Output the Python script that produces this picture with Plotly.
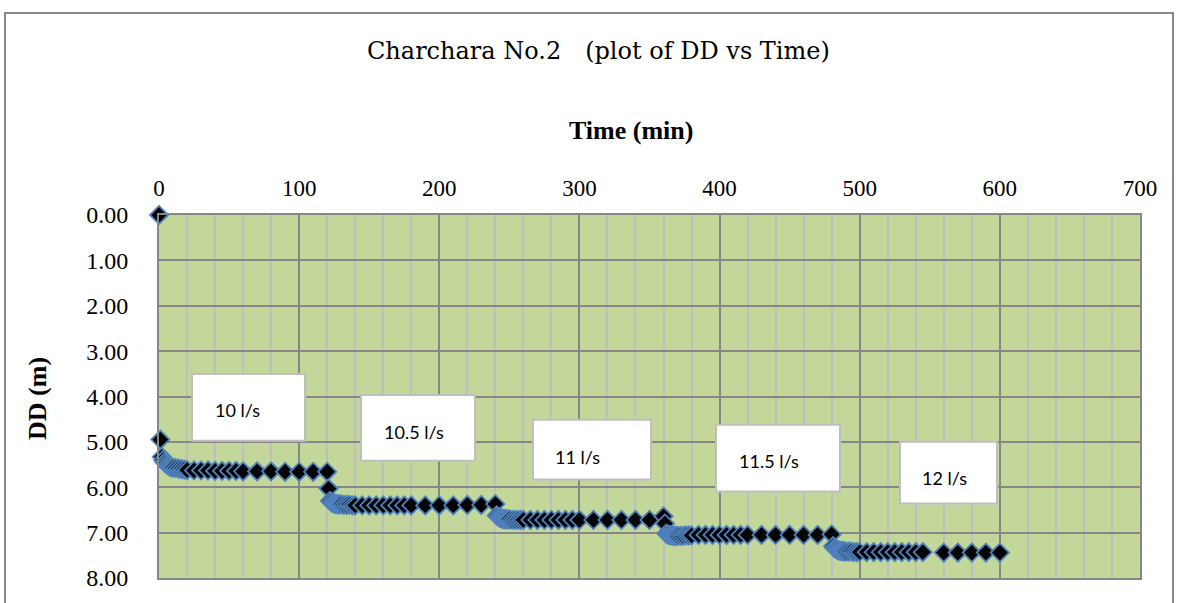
import plotly.graph_objects as go

# ---------------- data ----------------
step1_time = [0, 1, 2, 3, 4, 5, 6, 7, 8, 9, 10, 12, 14, 16, 18, 20, 25, 30, 35, 40, 45, 50, 55, 60,
              70, 80, 90, 100, 110, 120]
step1_dd = [0.00, 4.95, 5.33, 5.40, 5.45, 5.48, 5.51, 5.53, 5.55, 5.56, 5.57, 5.58, 5.59, 5.60, 5.61,
            5.62, 5.63, 5.63, 5.63, 5.64, 5.64, 5.64, 5.64, 5.65, 5.65, 5.65, 5.66, 5.66, 5.66, 5.66]

step2_time = [121, 122, 123, 124, 125, 126, 127, 128, 129, 130, 132, 134, 136, 138, 140, 145, 150,
              155, 160, 165, 170, 175, 180, 190, 200, 210, 220, 230, 240]
step2_dd = [6.03, 6.30, 6.33, 6.35, 6.36, 6.37, 6.37, 6.38, 6.38, 6.38, 6.39, 6.39, 6.39, 6.40, 6.40,
            6.40, 6.40, 6.40, 6.40, 6.40, 6.40, 6.40, 6.40, 6.40, 6.40, 6.40, 6.39, 6.39, 6.37]

step3_time = [241, 242, 243, 244, 245, 246, 247, 248, 249, 250, 252, 254, 256, 258, 260, 265, 270,
              275, 280, 285, 290, 295, 300, 310, 320, 330, 340, 350, 360]
step3_dd = [6.62, 6.65, 6.67, 6.68, 6.69, 6.70, 6.70, 6.71, 6.71, 6.71, 6.72, 6.72, 6.72, 6.72, 6.72,
            6.72, 6.72, 6.72, 6.72, 6.72, 6.72, 6.72, 6.72, 6.72, 6.72, 6.72, 6.72, 6.72, 6.64]

step4_time = [361, 362, 363, 364, 365, 366, 367, 368, 369, 370, 372, 374, 376, 378, 380, 385, 390,
              395, 400, 405, 410, 415, 420, 430, 440, 450, 460, 470, 480]
step4_dd = [6.80, 7.02, 7.04, 7.05, 7.06, 7.06, 7.07, 7.07, 7.07, 7.07, 7.07, 7.07, 7.06, 7.06, 7.06,
            7.05, 7.05, 7.05, 7.05, 7.05, 7.05, 7.05, 7.05, 7.05, 7.05, 7.05, 7.05, 7.05, 7.04]

step5_time = [481, 482, 483, 484, 485, 486, 487, 488, 489, 490, 492, 494, 496, 498, 500, 505, 510,
              515, 520, 525, 530, 535, 540, 545, 560, 570, 580, 590, 600]
step5_dd = [7.30, 7.34, 7.36, 7.38, 7.39, 7.40, 7.40, 7.41, 7.41, 7.42, 7.42, 7.42, 7.43, 7.43, 7.43,
            7.43, 7.43, 7.43, 7.43, 7.43, 7.43, 7.43, 7.43, 7.43, 7.44, 7.44, 7.44, 7.44, 7.44]

rate_labels = ["10 l/s", "10.5 l/s", "11 l/s", "11.5 l/s", "12 l/s"]

x_ticks = [0, 100, 200, 300, 400, 500, 600, 700]
y_ticks = [0, 1, 2, 3, 4, 5, 6, 7, 8]
y_ticktext = ["0.00", "1.00", "2.00", "3.00", "4.00", "5.00", "6.00", "7.00", "8.00"]

times = step1_time + step2_time + step3_time + step4_time + step5_time
dds = step1_dd + step2_dd + step3_dd + step4_dd + step5_dd

# ---------------- layout helpers (pixels -> paper) ----------------
W, H = 1178, 603
PL, PR, PT, PB = 159, 1140, 215, 580


def px(x):
    return (x - PL) / (PR - PL)


def py(y):
    return (PB - y) / (PB - PT)


SERIF = "Liberation Serif, Times New Roman, serif"
TITLE_SERIF = "DejaVu Serif, serif"
SANS = "Lato, Open Sans, sans-serif"

fig = go.Figure()
fig.add_trace(go.Scatter(
    x=times, y=dds, mode="markers", cliponaxis=False,
    marker=dict(symbol="diamond", size=14, color="black",
                line=dict(color="#4F81BD", width=1.8)),
    showlegend=False, hoverinfo="x+y",
))

shapes = []
# outer chart border
shapes.append(dict(type="rect", xref="paper", yref="paper",
                   x0=px(5), x1=px(1173), y0=py(640), y1=py(12),
                   line=dict(color="#878787", width=2), fillcolor="rgba(0,0,0,0)", layer="below"))

# text boxes (pixel boxes) and their labels
boxes = [(192, 305, 375, 442, 213, 411),
         (361, 475, 396, 462, 382, 433),
         (533, 651, 421, 481, 553, 458),
         (716, 840, 426, 493, 737, 462),
         (900, 997, 443, 505, 920, 479)]
annotations = []
for (x0, x1, y0, y1, tx, ty), lab in zip(boxes, rate_labels):
    shapes.append(dict(type="rect", xref="paper", yref="paper",
                       x0=px(x0), x1=px(x1), y0=py(y1), y1=py(y0),
                       line=dict(color="#BFBFBF", width=2), fillcolor="white", layer="above"))
    annotations.append(dict(text=lab, xref="paper", yref="paper", x=px(tx), y=py(ty),
                            xanchor="left", yanchor="middle", showarrow=False,
                            font=dict(family=SANS, size=18, color="black")))

annotations.append(dict(text="Charchara No.2　(plot of DD vs Time)", xref="paper", yref="paper",
                        x=px(598), y=py(50), xanchor="center", yanchor="middle", showarrow=False,
                        font=dict(family=TITLE_SERIF, size=24, color="black")))
annotations.append(dict(text="<b>Time (min)</b>", xref="paper", yref="paper",
                        x=px(631), y=py(130), xanchor="center", yanchor="middle", showarrow=False,
                        font=dict(family=SERIF, size=26, color="black")))
annotations.append(dict(text="<b>DD (m)</b>", xref="paper", yref="paper", textangle=-90,
                        x=px(38), y=py(400), xanchor="center", yanchor="middle", showarrow=False,
                        font=dict(family=SERIF, size=26, color="black")))

fig.update_layout(
    width=W, height=H,
    margin=dict(l=PL, r=W - PR, t=PT, b=H - PB, pad=0),
    paper_bgcolor="white", plot_bgcolor="#C4D79B",
    shapes=shapes, annotations=annotations,
    xaxis=dict(range=[0, 700], side="top", tickvals=x_ticks, ticks="", showline=True, mirror=True,
               linecolor="#878787", linewidth=2, showgrid=True, gridcolor="#878787", gridwidth=2,
               zeroline=False, ticklabelstandoff=8,
               minor=dict(dtick=20, showgrid=True, gridcolor="#BFBFBF", gridwidth=2),
               tickfont=dict(family=SERIF, size=23, color="black")),
    yaxis=dict(range=[8, 0], tickvals=y_ticks, ticktext=y_ticktext, ticks="", showline=True,
               mirror=True, linecolor="#878787", linewidth=2, showgrid=True, gridcolor="#878787",
               gridwidth=2, zeroline=False, ticklabelstandoff=24,
               tickfont=dict(family=SERIF, size=24, color="black")),
)

fig.write_html("out.html", config={"displayModeBar": False},
               post_script="document.body.style.margin='0';document.body.style.overflow='hidden';")
